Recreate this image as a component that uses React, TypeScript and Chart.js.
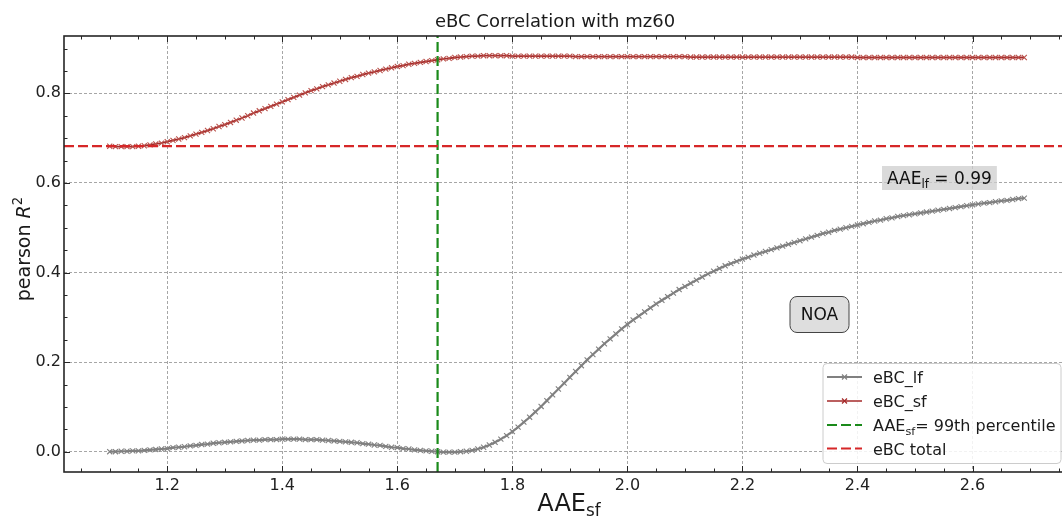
import React, { useEffect, useRef } from "react";
import { Chart, registerables } from "chart.js";

Chart.register(...registerables);

// ---------------- data ----------------
const aaeSf = [
  1.10, 1.11, 1.12, 1.13, 1.14, 1.15, 1.16, 1.17, 1.18, 1.19,
  1.20, 1.21, 1.22, 1.23, 1.24, 1.25, 1.26, 1.27, 1.28, 1.29,
  1.30, 1.31, 1.32, 1.33, 1.34, 1.35, 1.36, 1.37, 1.38, 1.39,
  1.40, 1.41, 1.42, 1.43, 1.44, 1.45, 1.46, 1.47, 1.48, 1.49,
  1.50, 1.51, 1.52, 1.53, 1.54, 1.55, 1.56, 1.57, 1.58, 1.59,
  1.60, 1.61, 1.62, 1.63, 1.64, 1.65, 1.66, 1.67, 1.68, 1.69,
  1.70, 1.71, 1.72, 1.73, 1.74, 1.75, 1.76, 1.77, 1.78, 1.79,
  1.80, 1.81, 1.82, 1.83, 1.84, 1.85, 1.86, 1.87, 1.88, 1.89,
  1.90, 1.91, 1.92, 1.93, 1.94, 1.95, 1.96, 1.97, 1.98, 1.99,
  2.00, 2.01, 2.02, 2.03, 2.04, 2.05, 2.06, 2.07, 2.08, 2.09,
  2.10, 2.11, 2.12, 2.13, 2.14, 2.15, 2.16, 2.17, 2.18, 2.19,
  2.20, 2.21, 2.22, 2.23, 2.24, 2.25, 2.26, 2.27, 2.28, 2.29,
  2.30, 2.31, 2.32, 2.33, 2.34, 2.35, 2.36, 2.37, 2.38, 2.39,
  2.40, 2.41, 2.42, 2.43, 2.44, 2.45, 2.46, 2.47, 2.48, 2.49,
  2.50, 2.51, 2.52, 2.53, 2.54, 2.55, 2.56, 2.57, 2.58, 2.59,
  2.60, 2.61, 2.62, 2.63, 2.64, 2.65, 2.66, 2.67, 2.68, 2.69,
];

const eBC_lf = [
  0.000, 0.000, 0.001, 0.001, 0.002, 0.002, 0.003, 0.004, 0.005, 0.006,
  0.007, 0.009, 0.010, 0.011, 0.013, 0.014, 0.016, 0.017, 0.019, 0.020,
  0.021, 0.022, 0.023, 0.024, 0.025, 0.026, 0.026, 0.027, 0.027, 0.027,
  0.028, 0.028, 0.028, 0.028, 0.027, 0.027, 0.027, 0.026, 0.025, 0.024,
  0.023, 0.022, 0.021, 0.020, 0.018, 0.017, 0.015, 0.014, 0.012, 0.010,
  0.009, 0.007, 0.006, 0.004, 0.003, 0.002, 0.001, 0.000, -0.001, -0.001,
  -0.001, 0.000, 0.001, 0.003, 0.006, 0.010, 0.015, 0.021, 0.028, 0.036,
  0.045, 0.055, 0.066, 0.077, 0.089, 0.101, 0.114, 0.127, 0.140, 0.153,
  0.166, 0.179, 0.192, 0.205, 0.217, 0.229, 0.241, 0.252, 0.263, 0.274,
  0.284, 0.294, 0.303, 0.312, 0.321, 0.330, 0.338, 0.346, 0.354, 0.362,
  0.369, 0.376, 0.383, 0.390, 0.397, 0.403, 0.409, 0.415, 0.420, 0.425,
  0.430, 0.434, 0.439, 0.443, 0.447, 0.451, 0.455, 0.459, 0.463, 0.467,
  0.471, 0.475, 0.479, 0.483, 0.487, 0.490, 0.494, 0.497, 0.500, 0.503,
  0.506, 0.509, 0.512, 0.515, 0.517, 0.520, 0.522, 0.525, 0.527, 0.529,
  0.531, 0.533, 0.535, 0.537, 0.539, 0.541, 0.543, 0.545, 0.547, 0.549,
  0.551, 0.553, 0.555, 0.556, 0.558, 0.560, 0.561, 0.563, 0.565, 0.566,
];

const eBC_sf = [
  0.682, 0.681, 0.681, 0.681, 0.681, 0.682, 0.683, 0.685, 0.687, 0.689,
  0.692, 0.695, 0.698, 0.701, 0.705, 0.709, 0.713, 0.717, 0.721, 0.726,
  0.730, 0.735, 0.740, 0.745, 0.750, 0.756, 0.761, 0.766, 0.771, 0.776,
  0.781, 0.786, 0.791, 0.796, 0.801, 0.806, 0.810, 0.815, 0.819, 0.823,
  0.827, 0.831, 0.835, 0.838, 0.842, 0.845, 0.848, 0.851, 0.854, 0.857,
  0.860, 0.862, 0.865, 0.867, 0.869, 0.871, 0.873, 0.875, 0.877, 0.878,
  0.880, 0.881, 0.882, 0.883, 0.883, 0.884, 0.884, 0.884, 0.884, 0.884,
  0.883, 0.883, 0.883, 0.883, 0.883, 0.883, 0.883, 0.883, 0.883, 0.883,
  0.883, 0.882, 0.882, 0.882, 0.882, 0.882, 0.882, 0.882, 0.882, 0.882,
  0.882, 0.882, 0.882, 0.882, 0.882, 0.882, 0.882, 0.882, 0.882, 0.882,
  0.882, 0.881, 0.881, 0.881, 0.881, 0.881, 0.881, 0.881, 0.881, 0.881,
  0.881, 0.881, 0.881, 0.881, 0.881, 0.881, 0.881, 0.881, 0.881, 0.881,
  0.881, 0.881, 0.881, 0.881, 0.881, 0.881, 0.881, 0.881, 0.881, 0.881,
  0.880, 0.880, 0.880, 0.880, 0.880, 0.880, 0.880, 0.880, 0.880, 0.880,
  0.880, 0.880, 0.880, 0.880, 0.880, 0.880, 0.880, 0.880, 0.880, 0.880,
  0.880, 0.880, 0.880, 0.880, 0.880, 0.880, 0.880, 0.880, 0.880, 0.880,
];

const eBCTotal = 0.682;
const aae99thPercentile = 1.67;
const aaeLf = "0.99";
const regionLabel = "NOA";

const xTickValues = [1.2, 1.4, 1.6, 1.8, 2.0, 2.2, 2.4, 2.6];
const yTickValues = [0.0, 0.2, 0.4, 0.6, 0.8];

const X_MIN = 1.0205;
const X_MAX = 2.7695;
const Y_MIN = -0.0453;
const Y_MAX = 0.928;

// ---------------- styles ----------------
const FONT = "'DejaVu Sans', 'Liberation Sans', sans-serif";
const LF_COLOR = "#808080";
const SF_COLOR = "#a52a2a";
const GREEN = "#1a8a1a";
const RED = "#d62728";
const DASH = [10, 4];

type Part = { t: string; sub?: boolean; sup?: boolean; italic?: boolean };

function drawRich(
  ctx: CanvasRenderingContext2D,
  parts: Part[],
  x: number,
  y: number,
  size: number,
  align: "left" | "center"
) {
  const fontFor = (p: Part) => {
    const s = p.sub || p.sup ? size * 0.7 : size;
    return `${p.italic ? "italic " : ""}${s}px ${FONT}`;
  };
  let total = 0;
  const widths = parts.map((p) => {
    ctx.font = fontFor(p);
    const w = ctx.measureText(p.t).width;
    total += w;
    return w;
  });
  let cx = align === "center" ? x - total / 2 : x;
  ctx.textAlign = "left";
  ctx.textBaseline = "alphabetic";
  parts.forEach((p, i) => {
    ctx.font = fontFor(p);
    const dy = p.sub ? size * 0.22 : p.sup ? -size * 0.42 : 0;
    ctx.fillText(p.t, cx, y + dy);
    cx += widths[i];
  });
  return total;
}

function crossRot(ctx: CanvasRenderingContext2D, x: number, y: number, r: number) {
  ctx.beginPath();
  ctx.moveTo(x - r, y - r);
  ctx.lineTo(x + r, y + r);
  ctx.moveTo(x - r, y + r);
  ctx.lineTo(x + r, y - r);
  ctx.stroke();
}

const overlayPlugin = {
  id: "overlay",
  afterDatasetsDraw(chart: any) {
    const ctx: CanvasRenderingContext2D = chart.ctx;
    const { left, right, top, bottom } = chart.chartArea;
    const xs = chart.scales.x;
    const ys = chart.scales.y;
    ctx.save();

    // frame
    ctx.strokeStyle = "#262626";
    ctx.lineWidth = 1.6;
    ctx.setLineDash([]);
    ctx.strokeRect(left, top, right - left, bottom - top);

    // inward ticks
    ctx.lineWidth = 1;
    const isMajor = (v: number, arr: number[]) => arr.some((m) => Math.abs(m - v) < 1e-6);
    for (let k = 21; k <= 55; k++) {
      const v = k * 0.05;
      if (v < X_MIN || v > X_MAX) continue;
      const px = Math.round(xs.getPixelForValue(v)) + 0.5;
      const len = isMajor(v, xTickValues) ? 6 : 3.5;
      ctx.beginPath();
      ctx.moveTo(px, bottom);
      ctx.lineTo(px, bottom - len);
      ctx.moveTo(px, top);
      ctx.lineTo(px, top + len);
      ctx.stroke();
    }
    for (let k = 0; k <= 18; k++) {
      const v = k * 0.05;
      if (v < Y_MIN || v > Y_MAX) continue;
      const py = Math.round(ys.getPixelForValue(v)) + 0.5;
      const len = isMajor(v, yTickValues) ? 6 : 3.5;
      ctx.beginPath();
      ctx.moveTo(left, py);
      ctx.lineTo(left + len, py);
      ctx.moveTo(right, py);
      ctx.lineTo(right - len, py);
      ctx.stroke();
    }

    // AAE_lf annotation
    const annParts: Part[] = [{ t: "AAE" }, { t: "lf", sub: true }, { t: ` = ${aaeLf}` }];
    ctx.save();
    ctx.globalAlpha = 0;
    const annW = drawRich(ctx, annParts, 0, -100, 17, "left");
    ctx.restore();
    const annX = 887;
    const annY = 184;
    ctx.fillStyle = "rgba(205,205,205,0.75)";
    ctx.fillRect(annX - 5, annY - 18, annW + 10, 24);
    ctx.fillStyle = "#111";
    drawRich(ctx, annParts, annX, annY, 17, "left");

    // NOA box
    const bx = 790, by = 296.5, bw = 59, bh = 36;
    ctx.beginPath();
    ctx.roundRect(bx, by, bw, bh, 7);
    ctx.fillStyle = "#dedede";
    ctx.fill();
    ctx.strokeStyle = "#444";
    ctx.lineWidth = 1;
    ctx.stroke();
    ctx.fillStyle = "#111";
    ctx.font = `17px ${FONT}`;
    ctx.textAlign = "center";
    ctx.textBaseline = "middle";
    ctx.fillText(regionLabel, bx + bw / 2, by + bh / 2 + 1);

    // legend
    const lx = 823, ly = 363.5, lw = 238, lh = 100;
    ctx.beginPath();
    ctx.roundRect(lx, ly, lw, lh, 4);
    ctx.fillStyle = "rgba(255,255,255,0.85)";
    ctx.fill();
    ctx.strokeStyle = "#cccccc";
    ctx.lineWidth = 1;
    ctx.stroke();

    const rows = [377, 401, 425, 448.5];
    const sx0 = 827, sx1 = 862;
    // lf
    ctx.strokeStyle = LF_COLOR;
    ctx.lineWidth = 2.2;
    ctx.beginPath();
    ctx.moveTo(sx0, rows[0]);
    ctx.lineTo(sx1, rows[0]);
    ctx.stroke();
    ctx.lineWidth = 1.2;
    crossRot(ctx, (sx0 + sx1) / 2, rows[0], 2.5);
    // sf
    ctx.strokeStyle = SF_COLOR;
    ctx.lineWidth = 1.6;
    ctx.beginPath();
    ctx.moveTo(sx0, rows[1]);
    ctx.lineTo(sx1, rows[1]);
    ctx.stroke();
    ctx.lineWidth = 1.2;
    crossRot(ctx, (sx0 + sx1) / 2, rows[1], 2.5);
    // green dashed
    ctx.setLineDash(DASH);
    ctx.lineWidth = 2.2;
    ctx.strokeStyle = GREEN;
    ctx.beginPath();
    ctx.moveTo(sx0, rows[2]);
    ctx.lineTo(sx1, rows[2]);
    ctx.stroke();
    ctx.strokeStyle = RED;
    ctx.beginPath();
    ctx.moveTo(sx0, rows[3]);
    ctx.lineTo(sx1, rows[3]);
    ctx.stroke();
    ctx.setLineDash([]);

    ctx.fillStyle = "#1a1a1a";
    const tx = 873;
    const off = 6;
    drawRich(ctx, [{ t: "eBC_lf" }], tx, rows[0] + off, 16, "left");
    drawRich(ctx, [{ t: "eBC_sf" }], tx, rows[1] + off, 16, "left");
    drawRich(
      ctx,
      [{ t: "AAE" }, { t: "sf", sub: true }, { t: "= 99th percentile" }],
      tx,
      rows[2] + off,
      16,
      "left"
    );
    drawRich(ctx, [{ t: "eBC total" }], tx, rows[3] + off, 16, "left");

    ctx.restore();
  },
  afterDraw(chart: any) {
    const ctx: CanvasRenderingContext2D = chart.ctx;
    ctx.save();
    ctx.fillStyle = "#1a1a1a";
    // title
    drawRich(ctx, [{ t: "eBC Correlation with mz60" }], 555, 27, 18, "center");
    // x label
    drawRich(ctx, [{ t: "AAE" }, { t: "sf", sub: true }], 569, 511, 24, "center");
    // y label
    ctx.translate(30, 249);
    ctx.rotate(-Math.PI / 2);
    drawRich(
      ctx,
      [{ t: "pearson " }, { t: "R", italic: true }, { t: "2", sup: true }],
      0,
      0,
      19,
      "center"
    );
    ctx.restore();
  },
};

export default function App() {
  const ref = useRef<HTMLCanvasElement | null>(null);

  useEffect(() => {
    if (!ref.current) return;
    const lfPoints = aaeSf.map((x, i) => ({ x, y: eBC_lf[i] }));
    const sfPoints = aaeSf.map((x, i) => ({ x, y: eBC_sf[i] }));
    const chart = new Chart(ref.current, {
      type: "line",
      data: {
        datasets: [
          {
            label: "eBC total",
            data: [
              { x: X_MIN, y: eBCTotal },
              { x: X_MAX, y: eBCTotal },
            ],
            borderColor: RED,
            borderWidth: 2.2,
            borderDash: DASH,
            pointRadius: 0,
            order: 0,
          },
          {
            label: "AAE_sf = 99th percentile",
            data: [
              { x: aae99thPercentile, y: Y_MIN },
              { x: aae99thPercentile, y: Y_MAX },
            ],
            borderColor: GREEN,
            borderWidth: 2.2,
            borderDash: DASH,
            pointRadius: 0,
            order: 1,
          },
          {
            label: "eBC_sf",
            data: sfPoints,
            borderColor: SF_COLOR,
            borderWidth: 1.8,
            pointStyle: "crossRot",
            pointRadius: 3.6,
            pointBorderColor: "#b9504a",
            pointBorderWidth: 1.1,
            order: 2,
          },
          {
            label: "eBC_lf",
            data: lfPoints,
            borderColor: LF_COLOR,
            borderWidth: 2.2,
            pointStyle: "crossRot",
            pointRadius: 3.6,
            pointBorderColor: LF_COLOR,
            pointBorderWidth: 1.1,
            order: 3,
          },
        ],
      },
      options: {
        responsive: false,
        animation: false,
        devicePixelRatio: 1,
        layout: { padding: { left: 0, top: 36, right: 10, bottom: 0 } },
        plugins: {
          legend: { display: false },
          tooltip: { enabled: false },
          title: { display: false },
        },
        scales: {
          x: {
            type: "linear",
            min: X_MIN,
            max: X_MAX,
            afterBuildTicks: (s: any) => {
              s.ticks = xTickValues.map((v) => ({ value: v }));
            },
            afterFit: (s: any) => {
              s.height = 46;
            },
            grid: { color: "#a6a6a6", lineWidth: 1, drawTicks: false },
            border: { display: false, dash: [3, 2] },
            ticks: {
              font: { family: FONT, size: 16 },
              color: "#222",
              padding: 4,
              maxRotation: 0,
              autoSkip: false,
              callback: (v: any) => Number(v).toFixed(1),
            },
          },
          y: {
            type: "linear",
            min: Y_MIN,
            max: Y_MAX,
            afterBuildTicks: (s: any) => {
              s.ticks = yTickValues.map((v) => ({ value: v }));
            },
            afterFit: (s: any) => {
              s.width = 64;
            },
            grid: { color: "#a6a6a6", lineWidth: 1, drawTicks: false },
            border: { display: false, dash: [3, 2] },
            ticks: {
              font: { family: FONT, size: 16 },
              color: "#222",
              padding: 3,
              autoSkip: false,
              callback: (v: any) => Number(v).toFixed(1),
            },
          },
        },
      },
      plugins: [overlayPlugin],
    });
    return () => chart.destroy();
  }, []);

  return (
    <div
      style={{
        position: "fixed",
        left: 0,
        top: 0,
        width: 1062,
        height: 518,
        overflow: "hidden",
        background: "#fff",
      }}
    >
      <canvas ref={ref} width={1080} height={518} style={{ display: "block" }} />
    </div>
  );
}
